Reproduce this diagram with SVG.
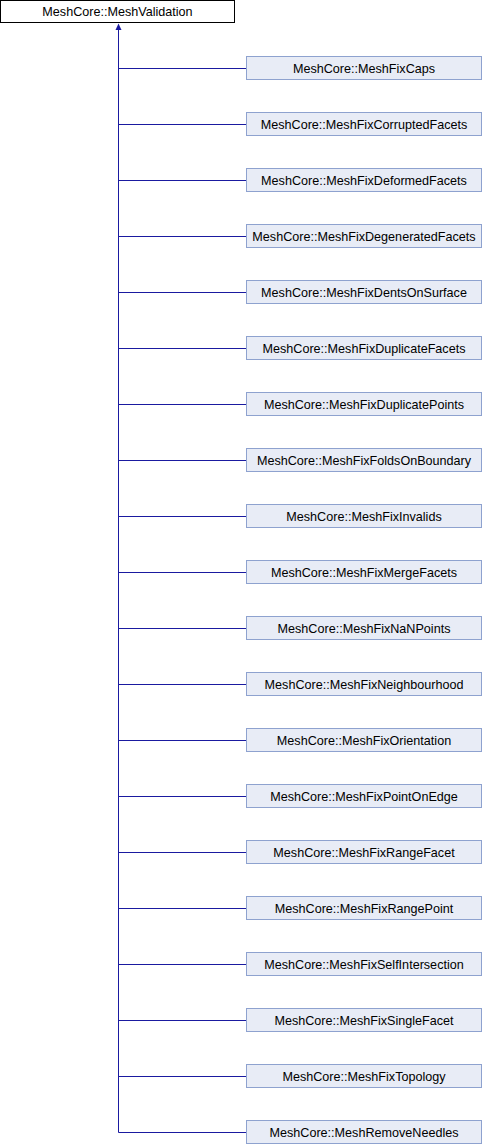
<svg xmlns="http://www.w3.org/2000/svg" width="482" height="1144" viewBox="0 0 482 1144">
<style>
.n rect{fill:#e8ecf6;stroke:#8ea2cf;stroke-width:1}
.b rect{fill:#ffffff;stroke:#000000;stroke-width:1}
text{font-family:"Liberation Sans",Arial,sans-serif;font-size:12.6px;fill:#000;text-anchor:middle}
.e path{stroke:#1a1aa0;stroke-width:1;fill:none}
</style>
<rect width="482" height="1144" fill="#ffffff"/>
<g id="MeshValidation" class="b"><rect x="0.5" y="0.5" width="234" height="22"/><text x="117.5" y="16">MeshCore::MeshValidation</text></g>
<g id="edges" class="e">
<path d="M118.5,29 V1132.5"/>
<polygon points="118.5,23.5 121.5,30 115.5,30" fill="#1a1aa0"/>
<path d="M118.5,68.5 H246.5 M118.5,124.5 H246.5 M118.5,180.5 H246.5 M118.5,236.5 H246.5 M118.5,292.5 H246.5 M118.5,348.5 H246.5 M118.5,404.5 H246.5 M118.5,460.5 H246.5 M118.5,516.5 H246.5 M118.5,572.5 H246.5 M118.5,628.5 H246.5 M118.5,684.5 H246.5 M118.5,740.5 H246.5 M118.5,796.5 H246.5 M118.5,852.5 H246.5 M118.5,908.5 H246.5 M118.5,964.5 H246.5 M118.5,1020.5 H246.5 M118.5,1076.5 H246.5 M118.5,1132.5 H246.5"/>
</g>
<g id="MeshFixCaps" class="n"><rect x="246.5" y="56.5" width="235" height="23"/><text x="364" y="72.5">MeshCore::MeshFixCaps</text></g>
<g id="MeshFixCorruptedFacets" class="n"><rect x="246.5" y="112.5" width="235" height="23"/><text x="364" y="128.5">MeshCore::MeshFixCorruptedFacets</text></g>
<g id="MeshFixDeformedFacets" class="n"><rect x="246.5" y="168.5" width="235" height="23"/><text x="364" y="184.5">MeshCore::MeshFixDeformedFacets</text></g>
<g id="MeshFixDegeneratedFacets" class="n"><rect x="246.5" y="224.5" width="235" height="23"/><text x="364" y="240.5">MeshCore::MeshFixDegeneratedFacets</text></g>
<g id="MeshFixDentsOnSurface" class="n"><rect x="246.5" y="280.5" width="235" height="23"/><text x="364" y="296.5">MeshCore::MeshFixDentsOnSurface</text></g>
<g id="MeshFixDuplicateFacets" class="n"><rect x="246.5" y="336.5" width="235" height="23"/><text x="364" y="352.5">MeshCore::MeshFixDuplicateFacets</text></g>
<g id="MeshFixDuplicatePoints" class="n"><rect x="246.5" y="392.5" width="235" height="23"/><text x="364" y="408.5">MeshCore::MeshFixDuplicatePoints</text></g>
<g id="MeshFixFoldsOnBoundary" class="n"><rect x="246.5" y="448.5" width="235" height="23"/><text x="364" y="464.5">MeshCore::MeshFixFoldsOnBoundary</text></g>
<g id="MeshFixInvalids" class="n"><rect x="246.5" y="504.5" width="235" height="23"/><text x="364" y="520.5">MeshCore::MeshFixInvalids</text></g>
<g id="MeshFixMergeFacets" class="n"><rect x="246.5" y="560.5" width="235" height="23"/><text x="364" y="576.5">MeshCore::MeshFixMergeFacets</text></g>
<g id="MeshFixNaNPoints" class="n"><rect x="246.5" y="616.5" width="235" height="23"/><text x="364" y="632.5">MeshCore::MeshFixNaNPoints</text></g>
<g id="MeshFixNeighbourhood" class="n"><rect x="246.5" y="672.5" width="235" height="23"/><text x="364" y="688.5">MeshCore::MeshFixNeighbourhood</text></g>
<g id="MeshFixOrientation" class="n"><rect x="246.5" y="728.5" width="235" height="23"/><text x="364" y="744.5">MeshCore::MeshFixOrientation</text></g>
<g id="MeshFixPointOnEdge" class="n"><rect x="246.5" y="784.5" width="235" height="23"/><text x="364" y="800.5">MeshCore::MeshFixPointOnEdge</text></g>
<g id="MeshFixRangeFacet" class="n"><rect x="246.5" y="840.5" width="235" height="23"/><text x="364" y="856.5">MeshCore::MeshFixRangeFacet</text></g>
<g id="MeshFixRangePoint" class="n"><rect x="246.5" y="896.5" width="235" height="23"/><text x="364" y="912.5">MeshCore::MeshFixRangePoint</text></g>
<g id="MeshFixSelfIntersection" class="n"><rect x="246.5" y="952.5" width="235" height="23"/><text x="364" y="968.5">MeshCore::MeshFixSelfIntersection</text></g>
<g id="MeshFixSingleFacet" class="n"><rect x="246.5" y="1008.5" width="235" height="23"/><text x="364" y="1024.5">MeshCore::MeshFixSingleFacet</text></g>
<g id="MeshFixTopology" class="n"><rect x="246.5" y="1064.5" width="235" height="23"/><text x="364" y="1080.5">MeshCore::MeshFixTopology</text></g>
<g id="MeshRemoveNeedles" class="n"><rect x="246.5" y="1120.5" width="235" height="23"/><text x="364" y="1136.5">MeshCore::MeshRemoveNeedles</text></g>
</svg>
